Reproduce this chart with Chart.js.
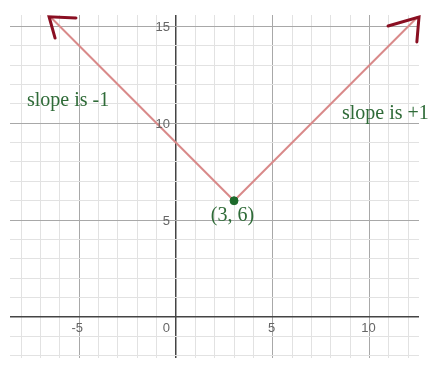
<!DOCTYPE html>
<html>
<head>
<meta charset="utf-8">
<script src="https://cdn.jsdelivr.net/npm/chart.js@4"></script>
<style>
  html, body { margin: 0; padding: 0; background: #fff; }
  canvas { display: block; }
</style>
</head>
<body>
<canvas id="grafico" width="441" height="370"></canvas>
<script>
// Dados do gráfico: y = |x - 3| + 6
const linhaX = [-6.5, 3, 12.5];
const linhaY = [15.5, 6, 15.5];
const verticeX = [3];
const verticeY = [6];
// setas desenhadas à mão nas pontas
const setaEsqX = [-5.17, -6.56, -6.25];
const setaEsqY = [15.44, 15.5, 14.4];
const setaDirX = [10.96, 12.56, 12.45];
const setaDirY = [15.02, 15.49, 14.2];
const ticksX = [-5, 0, 5, 10];
const ticksY = [5, 10, 15];
const textos = ['slope is -1', 'slope is +1', '(3, 6)'];
const textosX = [-7.7, 8.58, 1.8];
const textosY = [10.9, 10.22, 4.96];

const pontos = (xs, ys) => xs.map((x, i) => ({ x, y: ys[i] }));

// cor e espessura das linhas da grade
const corGrade = ctx => {
  const v = ctx.tick.value;
  if (v === 0) return '#444';
  if (v % 5 === 0) return '#a8a8a8';
  return '#e2e2e2';
};
const larguraGrade = ctx => ctx.tick.value === 0 ? 1.5 : 1;

// só ticks inteiros para a grade
const ticksInteiros = scale => {
  const lista = [];
  for (let v = Math.ceil(scale.min); v <= Math.floor(scale.max); v++) lista.push({ value: v });
  scale.ticks = lista;
};

// rótulos dos eixos e textos em cima do gráfico
const rotulos = {
  id: 'rotulos',
  afterDraw(chart) {
    const { ctx, scales: { x, y } } = chart;
    const x0 = x.getPixelForValue(0);
    const y0 = y.getPixelForValue(0);
    ctx.save();
    ctx.font = '13px "Liberation Sans", Arial, sans-serif';
    ctx.fillStyle = '#666';
    ticksX.forEach(v => {
      if (v === 0) {
        ctx.textAlign = 'right';
        ctx.textBaseline = 'top';
        ctx.fillText('0', x0 - 6, y0 + 5);
      } else {
        ctx.textAlign = 'center';
        ctx.textBaseline = 'top';
        ctx.fillText(String(v), x.getPixelForValue(v) - (v < 0 ? 2 : 1), y0 + 5);
      }
    });
    ticksY.forEach(v => {
      ctx.textAlign = 'right';
      ctx.textBaseline = 'middle';
      ctx.fillText(String(v), x0 - 6, y.getPixelForValue(v) + 1);
    });
    ctx.font = '20px "Liberation Serif", "Times New Roman", serif';
    ctx.fillStyle = '#2f6b38';
    ctx.textAlign = 'left';
    ctx.textBaseline = 'alphabetic';
    textos.forEach((t, i) => {
      ctx.fillText(t, x.getPixelForValue(textosX[i]), y.getPixelForValue(textosY[i]));
    });
    ctx.restore();
  }
};

new Chart(document.getElementById('grafico'), {
  type: 'scatter',
  data: {
    datasets: [
      {
        type: 'line',
        data: pontos(setaEsqX, setaEsqY),
        borderColor: '#8a0f22',
        borderWidth: 3,
        pointRadius: 0,
        borderCapStyle: 'round',
        clip: false,
        order: 1
      },
      {
        type: 'line',
        data: pontos(setaDirX, setaDirY),
        borderColor: '#8a0f22',
        borderWidth: 3,
        pointRadius: 0,
        borderCapStyle: 'round',
        clip: false,
        order: 1
      },
      {
        type: 'line',
        data: pontos(linhaX, linhaY),
        borderColor: '#d98a8a',
        borderWidth: 2,
        pointRadius: 0,
        clip: false,
        order: 2
      },
      {
        data: pontos(verticeX, verticeY),
        backgroundColor: '#1d6a2c',
        borderColor: '#1d6a2c',
        pointRadius: 4,
        order: 0
      }
    ]
  },
  options: {
    responsive: false,
    animation: false,
    layout: { padding: { left: 10, right: 22, top: 15, bottom: 12 } },
    plugins: { legend: { display: false }, tooltip: { enabled: false } },
    scales: {
      x: {
        min: -8.58,
        max: 12.56,
        afterBuildTicks: ticksInteiros,
        ticks: { display: false },
        border: { display: false },
        grid: { color: corGrade, lineWidth: larguraGrade, drawTicks: false }
      },
      y: {
        min: -2.12,
        max: 15.59,
        afterBuildTicks: ticksInteiros,
        ticks: { display: false },
        border: { display: false },
        grid: { color: corGrade, lineWidth: larguraGrade, drawTicks: false }
      }
    }
  },
  plugins: [rotulos]
});
</script>
</body>
</html>
